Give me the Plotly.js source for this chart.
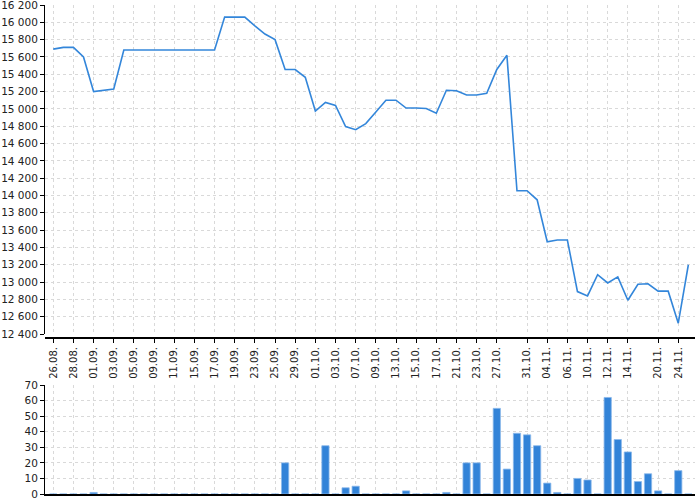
<!DOCTYPE html>
<html>
<head>
<meta charset="utf-8">
<script src="https://cdn.plot.ly/plotly-3.0.1.min.js"></script>
<style>
  html, body { margin: 0; padding: 0; background: #fff; }
  #chart { width: 700px; height: 500px; }
</style>
</head>
<body>
<div id="chart"></div>
<script>
// trading days
var dates = [
  "26.08", "27.08", "28.08", "29.08", "01.09", "02.09", "03.09", "04.09", "05.09", "08.09",
  "09.09", "10.09", "11.09", "12.09", "15.09", "16.09", "17.09", "18.09", "19.09", "22.09",
  "23.09", "24.09", "25.09", "26.09", "29.09", "30.09", "01.10", "02.10", "03.10", "06.10",
  "07.10", "08.10", "09.10", "10.10", "13.10", "14.10", "15.10", "16.10", "17.10", "20.10",
  "21.10", "22.10", "23.10", "24.10", "27.10", "28.10", "29.10", "31.10", "03.11", "04.11",
  "05.11", "06.11", "07.11", "10.11", "11.11", "12.11", "13.11", "14.11", "17.11", "18.11",
  "20.11", "21.11", "24.11", "25.11"
];

var prices = [
  15690, 15710, 15710, 15600, 15200, 15215, 15230, 15680, 15680, 15680,
  15680, 15680, 15680, 15680, 15680, 15680, 15680, 16060, 16060, 16060,
  15960, 15865, 15800, 15455, 15455, 15365, 14975, 15075, 15040, 14795,
  14760, 14830, 14965, 15100, 15100, 15010, 15010, 15005, 14950, 15215,
  15210, 15160, 15160, 15180, 15455, 15620, 14055, 14055, 13950, 13465,
  13485, 13485, 12890, 12840, 13085, 12990, 13060, 12790, 12975, 12980,
  12895, 12895, 12525, 13200
];

var volumes = [
  0, 0, 0, 0, 1, 0, 0, 0, 0, 0,
  0, 0, 0, 0, 0, 0, 0, 0, 0, 0,
  0, 0, 0, 20, 0, 0, 0, 31, 0, 4,
  5, 0, 0, 0, 0, 2, 0, 0, 0, 1,
  0, 20, 20, 0, 55, 16, 39, 38, 31, 7,
  1, 0, 10, 9, 0, 62, 35, 27, 8, 13,
  2, 0, 15, 0
];

var tickDates = [
  "26.08", "28.08", "01.09", "03.09", "05.09", "09.09", "11.09", "15.09", "17.09", "19.09",
  "23.09", "25.09", "29.09", "01.10", "03.10", "07.10", "09.10", "13.10", "15.10", "17.10",
  "21.10", "23.10", "27.10", "31.10", "04.11", "06.11", "10.11", "12.11", "14.11", "20.11",
  "24.11"
];
var tickLabels = tickDates.map(function (d) { return d + "."; });

var lineColor = "#3386da";
var barColor = "#3283d8";
var gridColor = "#d9d9d9";

var dataPrice = {
    x: dates,
    y: prices,
    type: "scatter",
    mode: "lines",
    line: { color: lineColor, width: 1.6 },
    xaxis: "x",
    yaxis: "y",
    hoverinfo: "x+y"
};

var dataVolume = {
    x: dates,
    y: volumes,
    type: "bar",
    width: 0.72,
    marker: {
        color: barColor,
        line: { color: "rgba(140,185,235,0.8)", width: 1 }
    },
    xaxis: "x2",
    yaxis: "y2",
    hoverinfo: "x+y"
};

// left plot edge at 45px, right at 695px
var xRange = [-0.82, 63.66];

var layout = {
    width: 700,
    height: 500,
    margin: { l: 45, r: 5, t: 5, b: 6 },
    paper_bgcolor: "#ffffff",
    plot_bgcolor: "#ffffff",
    separators: ", ",
    showlegend: false,
    font: { family: "DejaVu Sans", size: 10.5, color: "#222" },
    xaxis: {
        type: "category",
        categoryorder: "array",
        categoryarray: dates,
        range: xRange,
        anchor: "free",
        position: 0.3184,
        tickmode: "array",
        tickvals: tickDates,
        ticktext: tickLabels,
        tickangle: -90,
        tickfont: { size: 10, color: "#222" },
        ticks: "outside",
        ticklen: 4,
        tickcolor: "#000",
        showline: true,
        linecolor: "#000",
        linewidth: 1.5,
        showgrid: true,
        gridcolor: gridColor,
        griddash: "3px,3px",
        zeroline: false,
        fixedrange: true
    },
    yaxis: {
        domain: [0.3272, 1],
        range: [12400, 16200],
        dtick: 200,
        tick0: 12400,
        tickformat: ",d",
        ticks: "outside",
        ticklen: 4,
        tickcolor: "#000",
        ticklabeloverflow: "allow",
        showline: true,
        linecolor: "#000",
        linewidth: 1,
        showgrid: true,
        gridcolor: gridColor,
        griddash: "3px,3px",
        zeroline: false,
        fixedrange: true
    },
    xaxis2: {
        type: "category",
        categoryorder: "array",
        categoryarray: dates,
        range: xRange,
        anchor: "y2",
        tickmode: "array",
        tickvals: tickDates,
        showticklabels: false,
        ticks: "",
        showline: true,
        linecolor: "#000",
        linewidth: 2,
        showgrid: true,
        gridcolor: gridColor,
        griddash: "3px,3px",
        zeroline: false,
        fixedrange: true
    },
    yaxis2: {
        domain: [0, 0.2229],
        anchor: "x2",
        range: [0, 70],
        dtick: 10,
        ticks: "outside",
        ticklen: 4,
        tickcolor: "#000",
        ticklabeloverflow: "allow",
        showline: true,
        linecolor: "#000",
        linewidth: 1,
        showgrid: true,
        gridcolor: gridColor,
        griddash: "3px,3px",
        zeroline: false,
        fixedrange: true
    }
};

Plotly.newPlot("chart", [dataPrice, dataVolume], layout, { displayModeBar: false, responsive: false });
</script>
</body>
</html>
